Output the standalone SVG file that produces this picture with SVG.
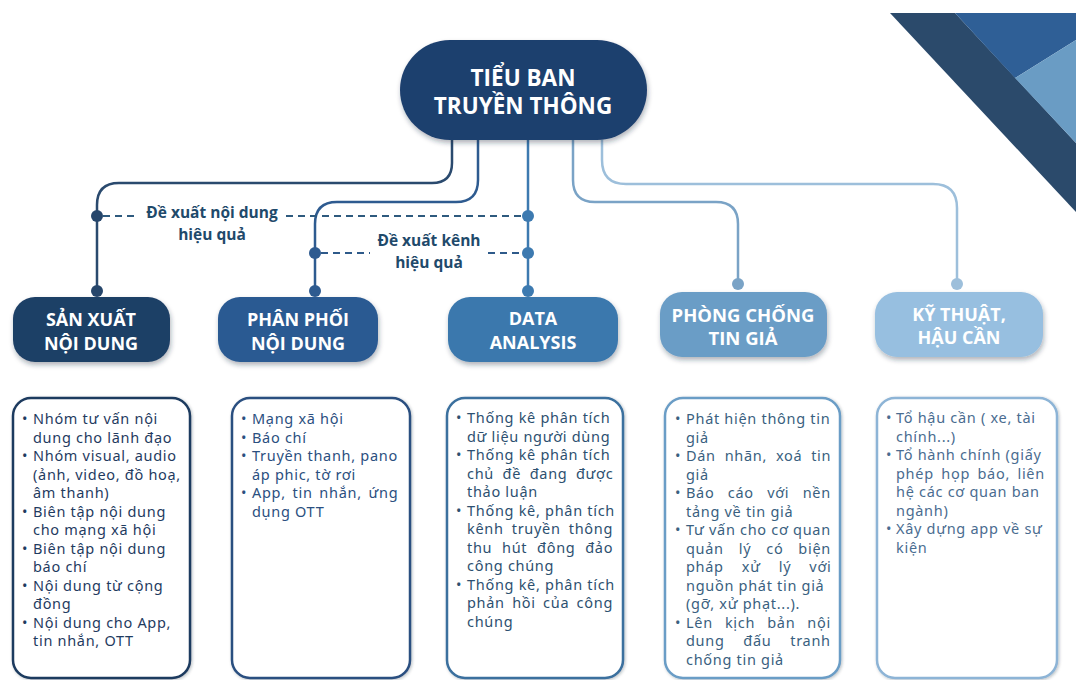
<svg xmlns="http://www.w3.org/2000/svg" width="1076" height="680" viewBox="0 0 1076 680">
<defs>
<filter id="sh" x="-10%" y="-10%" width="120%" height="130%"><feDropShadow dx="1" dy="3" stdDeviation="2.5" flood-color="#1a2a3a" flood-opacity="0.35"/></filter>
<filter id="sh2" x="-10%" y="-10%" width="120%" height="120%"><feDropShadow dx="1" dy="1" stdDeviation="1.5" flood-color="#1a2a3a" flood-opacity="0.3"/></filter>
</defs>
<style>
.hd{font-family:"Open Sans","Liberation Sans",sans-serif;font-weight:700;fill:#fff;text-anchor:middle}
.lb{font-family:"Open Sans","Liberation Sans",sans-serif;font-weight:700;font-size:15.5px;fill:#1f4a6b;text-anchor:middle}
.bx{fill:#fff;stroke-width:2.5}
.tx{font-family:"Noto Sans","Liberation Sans",sans-serif;font-size:14.5px;letter-spacing:0.7px}
.cn{fill:none;stroke-width:2.5}
.ds{fill:none;stroke-width:2;stroke-dasharray:7 5}
</style>
<rect width="1076" height="680" fill="#fff"/>
<g id="decor">
<polygon points="890,13 955,13 1076,143 1076,212" fill="#2b4a6b"/>
<polygon points="955,13 1076,13 1076,40 1015,78" fill="#2f5f96"/>
<polygon points="1015,78 1076,40 1076,143" fill="#6a9cc4"/>
</g>
<g id="connectors">
<path class="cn" stroke="#2a4a6e" d="M452,140 V163 Q452,183 432,183 H119 Q97,183 97,205 V291"/>
<path class="cn" stroke="#2e5b90" d="M478,140 V180 Q478,202 456,202 H337 Q315,202 315,224 V291"/>
<path class="cn" stroke="#3d7ab0" d="M528,140 V291"/>
<path class="cn" stroke="#7aa3c6" d="M573,140 V180 Q573,202 595,202 H716 Q738,202 738,224 V284"/>
<path class="cn" stroke="#9dbfdb" d="M602,140 V160 Q602,184 626,184 H933 Q957,184 957,208 V284"/>
<path class="ds" stroke="#2e5a7e" d="M103,216 H136 M286,216 H522"/>
<path class="ds" stroke="#2e5a8a" d="M321,253 H370 M488,253 H522"/>
<g fill="#26466b"><circle cx="97" cy="216" r="6"/><circle cx="97" cy="291" r="6"/></g>
<g fill="#2e5b90"><circle cx="315" cy="253" r="6"/><circle cx="315" cy="291" r="6"/></g>
<g fill="#3d7ab0"><circle cx="528" cy="216" r="6"/><circle cx="528" cy="253" r="6"/><circle cx="528" cy="291" r="6"/></g>
<circle cx="738" cy="284" r="6" fill="#7aa3c6"/>
<circle cx="957" cy="284" r="6" fill="#9dbfdb"/>
<text class="lb" x="212" y="218">Đề xuất nội dung</text>
<text class="lb" x="212" y="240">hiệu quả</text>
<text class="lb" x="429" y="246">Đề xuất kênh</text>
<text class="lb" x="429" y="268">hiệu quả</text>
</g>
<g id="root">
<rect x="400" y="40" width="247" height="100" rx="50" fill="#1e3f6e" filter="url(#sh)"/>
<text class="hd" font-size="22.5" x="523" y="86">TIỂU BAN</text>
<text class="hd" font-size="22.5" x="523" y="114">TRUYỀN THÔNG</text>
</g>
<g id="n1">
<rect x="13" y="297" width="157" height="65" rx="22" fill="#1f3f66" filter="url(#sh)"/>
<text class="hd" font-size="18" x="91" y="326">SẢN XUẤT</text>
<text class="hd" font-size="18" x="91" y="350">NỘI DUNG</text>
</g>
<g id="n2">
<rect x="218" y="297" width="160" height="65" rx="22" fill="#2a5a92" filter="url(#sh)"/>
<text class="hd" font-size="18" x="298" y="326">PHÂN PHỐI</text>
<text class="hd" font-size="18" x="298" y="350">NỘI DUNG</text>
</g>
<g id="n3">
<rect x="448" y="297" width="170" height="65" rx="22" fill="#3a78ad" filter="url(#sh)"/>
<text class="hd" font-size="18" x="533" y="325">DATA</text>
<text class="hd" font-size="18" x="533" y="349">ANALYSIS</text>
</g>
<g id="n4">
<rect x="660" y="292" width="167" height="65" rx="22" fill="#6b9dc6" filter="url(#sh)"/>
<text class="hd" font-size="18.5" x="743" y="322">PHÒNG CHỐNG</text>
<text class="hd" font-size="18.5" x="743" y="345">TIN GIẢ</text>
</g>
<g id="n5">
<rect x="875" y="292" width="168" height="65" rx="22" fill="#97bfe0" filter="url(#sh)"/>
<text class="hd" font-size="18" x="959" y="321">KỸ THUẬT,</text>
<text class="hd" font-size="18" x="959" y="344">HẬU CẦN</text>
</g>
<g id="b1">
<rect class="bx" x="13" y="398" width="177" height="280" rx="18" stroke="#1f3b5f" filter="url(#sh2)"/>
<g class="tx" fill="#1f3b5f">
<text x="22" y="424">•</text><text x="33" y="424">Nhóm tư vấn nội</text>
<text x="33" y="442.5">dung cho lãnh đạo</text>
<text x="22" y="461">•</text><text x="33" y="461">Nhóm visual, audio</text>
<text x="33" y="479.5">(ảnh, video, đồ hoạ,</text>
<text x="33" y="498">âm thanh)</text>
<text x="22" y="516.5">•</text><text x="33" y="516.5">Biên tập nội dung</text>
<text x="33" y="535">cho mạng xã hội</text>
<text x="22" y="553.5">•</text><text x="33" y="553.5">Biên tập nội dung</text>
<text x="33" y="572">báo chí</text>
<text x="22" y="590.5">•</text><text x="33" y="590.5">Nội dung từ cộng</text>
<text x="33" y="609">đồng</text>
<text x="22" y="627.5">•</text><text x="33" y="627.5">Nội dung cho App,</text>
<text x="33" y="646">tin nhắn, OTT</text>
</g>
</g>
<g id="b2">
<rect class="bx" x="232" y="398" width="178" height="280" rx="18" stroke="#2b4f80" filter="url(#sh2)"/>
<g class="tx" fill="#2b4f80">
<text x="241" y="424">•</text><text x="252" y="424">Mạng xã hội</text>
<text x="241" y="442.5">•</text><text x="252" y="442.5">Báo chí</text>
<text x="241" y="461">•</text><text x="252" y="461">Truyền thanh, pano</text>
<text x="252" y="479.5">áp phic, tờ rơi</text>
<text x="241" y="498">•</text><text x="252" y="498" word-spacing="2.3">App, tin nhắn, ứng</text>
<text x="252" y="516.5">dụng OTT</text>
</g>
</g>
<g id="b3">
<rect class="bx" x="447" y="398" width="176" height="280" rx="18" stroke="#3a6f9e" filter="url(#sh2)"/>
<g class="tx" fill="#2d5070">
<text x="456" y="423">•</text><text x="467" y="423">Thống kê phân tích</text>
<text x="467" y="441.5">dữ liệu người dùng</text>
<text x="456" y="460">•</text><text x="467" y="460">Thống kê phân tích</text>
<text x="467" y="478.5" word-spacing="4.1">chủ đề đang được</text>
<text x="467" y="497">thảo luận</text>
<text x="456" y="515.5">•</text><text x="467" y="515.5">Thống kê, phân tích</text>
<text x="467" y="534" word-spacing="3.6">kênh truyền thông</text>
<text x="467" y="552.5" word-spacing="5.3">thu hút đông đảo</text>
<text x="467" y="571">công chúng</text>
<text x="456" y="589.5">•</text><text x="467" y="589.5">Thống kê, phân tích</text>
<text x="467" y="608" word-spacing="2.9">phản hồi của công</text>
<text x="467" y="626.5">chúng</text>
</g>
</g>
<g id="b4">
<rect class="bx" x="665" y="398" width="175" height="280" rx="18" stroke="#6b9dc6" filter="url(#sh2)"/>
<g class="tx" fill="#3a5f80">
<text x="675" y="424">•</text><text x="686" y="424">Phát hiện thông tin</text>
<text x="686" y="442.5">giả</text>
<text x="675" y="461">•</text><text x="686" y="461" word-spacing="4.4">Dán nhãn, xoá tin</text>
<text x="686" y="479.5">giả</text>
<text x="675" y="498">•</text><text x="686" y="498" word-spacing="8.9">Báo cáo với nền</text>
<text x="686" y="516.5">tảng về tin giả</text>
<text x="675" y="535">•</text><text x="686" y="535">Tư vấn cho cơ quan</text>
<text x="686" y="553.5" word-spacing="10.5">quản lý có biện</text>
<text x="686" y="572" word-spacing="13.6">pháp xử lý với</text>
<text x="686" y="590.5">nguồn phát tin giả</text>
<text x="686" y="609">(gỡ, xử phạt...).</text>
<text x="675" y="627.5">•</text><text x="686" y="627.5" word-spacing="7.6">Lên kịch bản nội</text>
<text x="686" y="646" word-spacing="14.3">dung đấu tranh</text>
<text x="686" y="664.5">chống tin giả</text>
</g>
</g>
<g id="b5">
<rect class="bx" x="877" y="398" width="180" height="280" rx="18" stroke="#8db4d6" filter="url(#sh2)"/>
<g class="tx" fill="#4a6c90">
<text x="886" y="423">•</text><text x="896" y="423">Tổ hậu cần ( xe, tài</text>
<text x="896" y="441.5">chính...)</text>
<text x="886" y="460">•</text><text x="896" y="460">Tổ hành chính (giấy</text>
<text x="896" y="478.5" word-spacing="3">phép họp báo, liên</text>
<text x="896" y="497">hệ các cơ quan ban</text>
<text x="896" y="515.5">ngành)</text>
<text x="886" y="534">•</text><text x="896" y="534">Xây dựng app về sự</text>
<text x="896" y="552.5">kiện</text>
</g>
</g>
</svg>
